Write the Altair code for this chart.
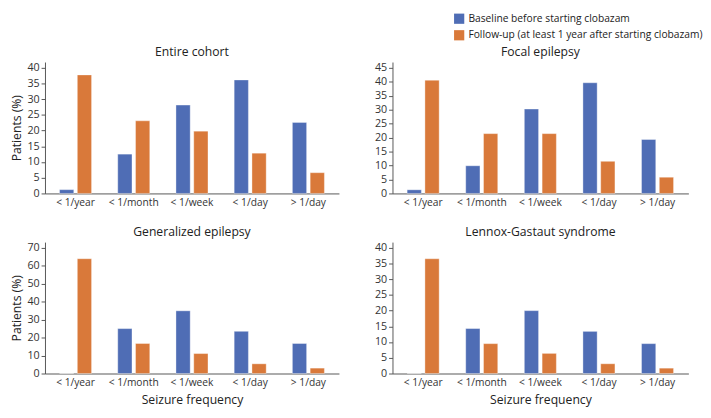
import altair as alt
import pandas as pd

categories = ["< 1/year", "< 1/month", "< 1/week", "< 1/day", "> 1/day"]
series = ["Baseline before starting clobazam",
          "Follow-up (at least 1 year after starting clobazam)"]
panels = ["Entire cohort", "Focal epilepsy", "Generalized epilepsy", "Lennox-Gastaut syndrome"]

entire_baseline = [1.2, 12.5, 28.1, 36.1, 22.6]
entire_followup = [37.7, 23.1, 19.8, 12.8, 6.6]
focal_baseline = [1.3, 9.9, 30.2, 39.6, 19.3]
focal_followup = [40.5, 21.4, 21.4, 11.5, 5.8]
gen_baseline = [0, 25.0, 34.9, 23.5, 16.7]
gen_followup = [63.9, 16.7, 11.1, 5.4, 3.0]
lgs_baseline = [0, 14.3, 20.0, 13.4, 9.5]
lgs_followup = [36.5, 9.5, 6.4, 3.1, 1.7]

y_ticks_max = [40, 45, 70, 40]
y_tick_step = [5, 5, 10, 5]

colors = ["#4f6db5", "#d9793a"]
FONT = "Open Sans"

values = [(entire_baseline, entire_followup), (focal_baseline, focal_followup),
          (gen_baseline, gen_followup), (lgs_baseline, lgs_followup)]

LEGEND = alt.Legend(title=None, orient="none", legendX=420, legendY=-50, padding=0,
                    symbolType="square", symbolSize=110, symbolStrokeWidth=0,
                    labelFontSize=10.5, labelFont=FONT, labelColor="#222",
                    rowPadding=6, labelLimit=400)


def panel(i, ytitle, xtitle, width):
    b, f = values[i]
    rows = []
    for c, v in zip(categories, b):
        rows.append({"cat": c, "series": series[0], "val": v})
    for c, v in zip(categories, f):
        rows.append({"cat": c, "series": series[1], "val": v})
    df = pd.DataFrame(rows)
    tmax = y_ticks_max[i]
    step = y_tick_step[i]
    xaxis = dict(labelAngle=0, ticks=False, labelFontSize=10.5, labelFont=FONT,
                 labelColor="#333", domainColor="#555", labelPadding=4)
    if xtitle:
        xaxis.update(title="Seizure frequency", titleFontSize=12.5, titleFont=FONT,
                     titleFontWeight="normal", titleColor="#222", titlePadding=6)
    else:
        xaxis.update(title="")
    yaxis = dict(values=list(range(0, tmax + 1, step)), grid=False, tickSize=4,
                 labelFontSize=11, labelFont=FONT, labelColor="#333", domainColor="#555",
                 tickColor="#555", labelPadding=2)
    if ytitle:
        yaxis.update(title="Patients (%)", titleFontSize=12.5, titleFont=FONT,
                     titleFontWeight="normal", titleColor="#222", titlePadding=4)
    else:
        yaxis.update(title="")
    color = alt.Color("series:N", scale=alt.Scale(domain=series, range=colors), legend=LEGEND)
    return alt.Chart(df, title=alt.TitleParams(panels[i], fontSize=12.5, font=FONT,
                                               fontWeight="normal", color="#222", offset=4)
                     ).mark_bar(stroke="#ffffff", strokeWidth=0.6, strokeOpacity=0.6).encode(
        x=alt.X("cat:N", sort=categories,
                scale=alt.Scale(paddingInner=0.45, paddingOuter=0.25),
                axis=alt.Axis(**xaxis)),
        xOffset=alt.XOffset("series:N", sort=series, scale=alt.Scale(paddingInner=0.2)),
        y=alt.Y("val:Q", scale=alt.Scale(domain=[0, tmax * 1.045], nice=False),
                axis=alt.Axis(**yaxis)),
        color=color,
    ).properties(width=width, height=135)


top = alt.hconcat(panel(0, True, False, 302), panel(1, False, False, 304), spacing=36)
bottom = alt.hconcat(panel(2, True, True, 302), panel(3, False, True, 304), spacing=36)
chart = alt.vconcat(top, bottom, spacing=18).properties(
    padding={"left": 2, "top": 0, "right": 0, "bottom": 0}
).configure_view(stroke=None)

chart.save("out.html", embed_options={"renderer": "svg", "actions": False})
